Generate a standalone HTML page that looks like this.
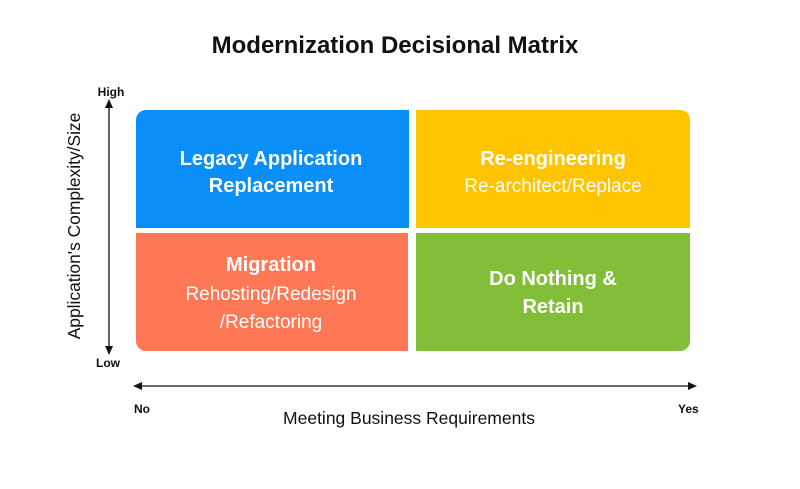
<!DOCTYPE html>
<html><head><style>body{margin:0;background:#fff}svg{display:block}</style></head><body>
<svg width="800" height="489" xmlns="http://www.w3.org/2000/svg" font-family="Liberation Sans, sans-serif">
<rect width="800" height="489" fill="#fff"/>
<text x="395" y="53" text-anchor="middle" font-size="24" font-weight="bold" fill="#111">Modernization Decisional Matrix</text>
<path d="M136 228 V120 a10 10 0 0 1 10 -10 H409 V228 Z" fill="#0a8ef7"/>
<path d="M416 110 H680 a10 10 0 0 1 10 10 V228 H416 Z" fill="#ffc400"/>
<path d="M136 233 H408 V351 H146 a10 10 0 0 1 -10 -10 Z" fill="#ff7856"/>
<path d="M416 233 H690 V341 a10 10 0 0 1 -10 10 H416 Z" fill="#82be38"/>
<g fill="#fff" text-anchor="middle" font-size="20">
<text x="271" y="165" font-weight="bold">Legacy Application</text>
<text x="271" y="192" font-weight="bold">Replacement</text>
<text x="553" y="165" font-weight="bold">Re-engineering</text>
<text x="553" y="192" font-size="19">Re-architect/Replace</text>
<text x="271" y="271" font-weight="bold">Migration</text>
<text x="271" y="300" font-size="19">Rehosting/Redesign</text>
<text x="271" y="328" font-size="19">/Refactoring</text>
<text x="553" y="285" font-weight="bold">Do Nothing &amp;</text>
<text x="553" y="313" font-weight="bold">Retain</text>
</g>
<line x1="109" y1="104" x2="109" y2="350" stroke="#111" stroke-width="1.3"/>
<path d="M109 99 l-4 9 h8 Z" fill="#111"/>
<path d="M109 355 l-4 -9 h8 Z" fill="#111"/>
<text x="111" y="96" text-anchor="middle" font-size="12" font-weight="bold" fill="#111">High</text>
<text x="96" y="367" font-size="12" font-weight="bold" fill="#111">Low</text>
<text transform="translate(80 226) rotate(-90)" text-anchor="middle" font-size="17.4" fill="#111">Application's Complexity/Size</text>
<line x1="138" y1="386" x2="692" y2="386" stroke="#111" stroke-width="1.3"/>
<path d="M133 386 l9 -4 v8 Z" fill="#111"/>
<path d="M697 386 l-9 -4 v8 Z" fill="#111"/>
<text x="134" y="413" font-size="12" font-weight="bold" fill="#111">No</text>
<text x="678" y="413" font-size="12" font-weight="bold" fill="#111">Yes</text>
<text x="409" y="424" text-anchor="middle" font-size="17.5" fill="#111">Meeting Business Requirements</text>
</svg>
</body></html>
